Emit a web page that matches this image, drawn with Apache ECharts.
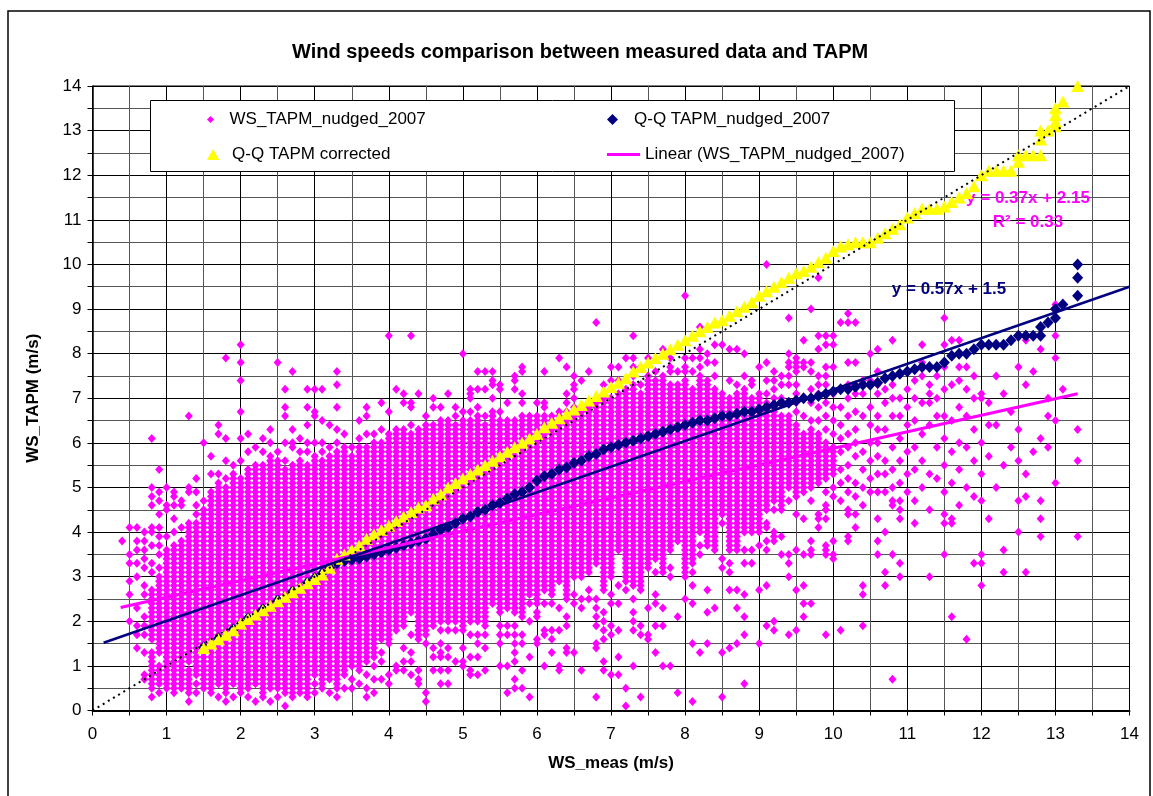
<!DOCTYPE html>
<html>
<head>
<meta charset="utf-8">
<title>Wind speeds comparison between measured data and TAPM</title>
<script src="https://cdn.jsdelivr.net/npm/echarts@6/dist/echarts.min.js"></script>
<style>
html, body { margin: 0; padding: 0; background: #fff; }
#chart { width: 1153px; height: 796px; }
</style>
</head>
<body>
<div id="chart"></div>
<script>
// WS_TAPM_nudged_2007 scatter, read column by column (measured speed in 0.1 m/s steps)
// "a-b" = the column is filled at every 0.1 from a to b, a lone number = one point
var colX = [0.4, 0.5, 0.6, 0.7, 0.8, 0.9, 1.0, 1.1, 1.2, 1.3, 1.4, 1.5, 1.6, 1.7, 1.8, 1.9,
    2.0, 2.1, 2.2, 2.3, 2.4, 2.5, 2.6, 2.7, 2.8, 2.9, 3.0, 3.1, 3.2, 3.3, 3.4, 3.5, 3.6, 3.7, 3.8, 3.9,
    4.0, 4.1, 4.2, 4.3, 4.4, 4.5, 4.6, 4.7, 4.8, 4.9, 5.0, 5.1, 5.2, 5.3, 5.4, 5.5, 5.6, 5.7, 5.8, 5.9,
    6.0, 6.1, 6.2, 6.3, 6.4, 6.5, 6.6, 6.7, 6.8, 6.9, 7.0, 7.1, 7.2, 7.3, 7.4, 7.5, 7.6, 7.7, 7.8, 7.9,
    8.0, 8.1, 8.2, 8.3, 8.4, 8.5, 8.6, 8.7, 8.8, 8.9, 9.0, 9.1, 9.2, 9.3, 9.4, 9.5, 9.6, 9.7, 9.8, 9.9,
    10.0, 10.1, 10.2, 10.3, 10.4, 10.5, 10.6, 10.7, 10.8, 10.9, 11.0, 11.1, 11.2, 11.3, 11.4, 11.5, 11.6, 11.7, 11.8, 11.9,
    12.0, 12.1, 12.2, 12.3, 12.4, 12.5, 12.6, 12.7, 12.8, 12.9, 13.0, 13.1, 13.3]
var colRuns = [
    "3.8",
    "2.0 2.6 2.9 3.3 3.5 4.1",
    "1.4 1.7 1.9 2.3 3.0 3.3 3.6 3.8 4.1",
    "0.7 0.8 1.3 1.7 1.9 2.1 2.6 2.8 3.2 3.4 3.6 3.8 4.0",
    "0.3 0.5-1.3 1.6-2.7 3.1 3.3 3.7 4.0 4.1 4.6 4.8 5.0 6.1",
    "0.4 0.6-1.0 1.3-3.0 3.2 3.5 3.7 3.9 4.1 4.4 4.7 4.9 5.4",
    "0.5-3.6 3.9 4.5 4.6 5.0",
    "0.4-3.7 4.0 4.3 4.6 4.8 4.9",
    "0.5-3.8 4.1 4.6 4.7",
    "0.2 0.4-0.9 1.1-4.2 4.9 5.0 6.6",
    "0.4 0.6 0.8-4.2 4.4 4.6 4.9 5.2",
    "0.5-4.5 4.7 6.0",
    "0.4-4.9 5.3 5.7",
    "0.3 0.6-5.1 5.3 6.2 6.4",
    "0.2 0.4-5.0 5.2 5.6 6.1 7.9",
    "0.3 0.6-5.3 5.5",
    "0.4-5.2 5.6 6.1 6.7 7.4 7.8 8.2",
    "0.3 0.5-5.3 5.4 5.8 6.2",
    "0.2 0.6-5.4 5.5 5.9",
    "0.3-5.5 5.8 6.1",
    "0.2 0.5-5.7 6.0 6.3",
    "0.3 0.5-5.6 5.8 7.8",
    "0.1 0.4-5.4 5.6 6.0 6.6 6.8 7.2",
    "0.3-5.5 5.9 6.0 6.3 7.6",
    "0.4-5.6 5.8 6.1",
    "0.3-5.5 5.8 6.0 6.4 6.8 7.2",
    "0.4 0.6 0.8-5.7 6.0 6.6 6.7 7.2",
    "0.5-5.6 5.8 6.0 6.5 7.2",
    "0.4 0.7-5.7 5.9 6.4",
    "0.3 0.5-5.8 6.0 6.3 6.8 7.3 7.6",
    "0.5 0.8-5.8 5.9 6.2",
    "0.5 0.7 1.0-5.7 5.9",
    "0.6 0.9-5.9 6.1 6.5",
    "0.3 0.5 0.8 1.1-5.9 6.2 6.6 6.8",
    "0.4 0.7 1.0 1.2-6.0 6.2",
    "0.7 1.1 1.3 1.6-6.0 6.3 6.9",
    "0.6 0.8 1.5-6.2 6.7 8.4",
    "0.9 1.0 1.8-6.3 7.2",
    "0.9 1.1 1.4 1.9-6.3 6.9 7.1",
    "0.8 1.1 1.3 1.7 2.2-6.2 6.4 6.8 6.9 8.4",
    "0.6 0.7 0.9 1.6-6.3 7.1",
    "0.2 0.4 1.5 1.7-6.4 6.6",
    "0.9 1.2 1.4 1.9-6.4 6.8 7.0",
    "0.6 0.9 1.2 1.3 1.5 1.8 2.0-6.5 6.8",
    "0.6 0.9 1.2 1.4 1.8 2.0-6.5 7.1",
    "1.1 1.8 2.0-6.4 6.6 6.8",
    "1.0 1.1 1.4 1.8-6.5 6.7 8.0",
    "0.8 0.9 1.2 1.7 2.0-6.5 6.7 7.0 7.1 7.2",
    "0.8 1.2 1.5 1.7 2.0-6.6 6.8 7.2 7.6",
    "0.9 1.4 1.7 1.9-6.4 6.6 7.2 7.6",
    "2.4-6.7 7.0 7.3 7.4 7.6",
    "1.0 1.5 1.7 1.9 2.2-6.5 6.7 7.2 7.3",
    "0.4 1.0 1.7 1.9 2.3-6.5 6.9",
    "0.5 0.7 1.1 1.3 1.5 1.7 1.9 2.2-6.5 7.2 7.4 7.5",
    "0.5 0.9 1.5 1.7 2.1-6.6 6.9 7.1 7.6 7.7",
    "0.3 1.2 2.0 2.4 2.6-6.6",
    "1.5 1.6 2.1 2.2 2.4-6.6 6.9",
    "1.0 1.7 1.8 2.4 2.7-6.6 6.8 6.9 7.6",
    "1.3 1.6 1.8 2.4 2.6-6.6",
    "0.9 1.0 1.8 2.3 2.9-6.7 7.9",
    "1.3 1.4 1.9 2.1 2.5-6.7 6.9 7.1 7.7",
    "1.3 2.4 2.6 3.0-6.8 7.0 7.2 7.3 7.5",
    "0.9 2.3 2.5 3.0-6.7 7.4",
    "2.5 2.7 3.1-6.8 6.9 7.6",
    "0.3 1.4 1.5 1.9 2.1 2.3 2.5 3.3-6.9 8.7",
    "0.9 1.1 1.6 1.8 2.0 2.2 2.7-7.0 7.1 7.3",
    "0.8 1.7 1.9 2.4 2.6 3.0-7.0 7.2 7.4 7.7",
    "0.8 1.2 1.8 2.4 2.8 3.6-7.1 7.4 7.7",
    "0.1 0.5 2.7 2.9-7.2 7.9",
    "1.0 1.8 2.0 2.2 2.5 2.8-7.3 7.5 7.7 7.9 8.4",
    "0.3 1.7 1.9 2.7-7.1 7.3 7.7",
    "1.6 1.7 2.3 3.2-7.5 7.9",
    "1.3 1.9 2.4 2.6 3.1 3.4-7.4 7.6",
    "1.0 1.9 2.3 3.1-7.5 8.1",
    "1.0 3.0 3.2 3.6-7.3 7.6 7.7 7.9",
    "0.4 2.1 3.8-7.3 7.6",
    "2.5 3.0-7.4 7.6 7.7 7.9 9.3",
    "0.2 1.5 2.4 2.8 3.1 3.3-7.2 7.6 7.9",
    "1.3 3.5 3.7 4.0-7.5 7.7 7.9 8.1 8.6",
    "1.5 2.2 2.7 3.7-7.4 7.8 8.0",
    "2.3 3.6-7.2 7.5 7.8 8.2",
    "0.3 1.3 3.2 3.4 4.2 4.4-7.1 8.2",
    "1.4 2.7 3.1 3.3 3.6-7.0 7.4 8.1",
    "1.5 2.3 2.7 3.6-7.1 7.3 8.1",
    "0.6 1.7 2.1 2.6 3.3 3.6 4.0-7.2 7.5 8.0",
    "3.3 3.6 4.0-7.0 7.3 7.4",
    "1.5 2.7 3.7 4.0-7.1 7.7",
    "1.9 2.8 3.6 3.8 4.1 4.2 4.5-6.9 7.1 7.4 7.8 10.0",
    "1.8 2.0 3.8 3.9 4.0 4.5 4.7-6.8 7.0 7.2 7.4 7.6",
    "3.5 3.9 4.5-6.6 7.0 7.3 7.5",
    "1.7 3.0 3.3 3.5 4.7 5.0-6.6 6.9 7.3 7.5 7.7 7.8 8.0 8.8",
    "1.8 2.7 3.6 4.4 4.8-6.4 6.7 6.9 7.1 7.3 7.6 7.7 7.8 7.9",
    "2.1 2.4 2.8 3.5 4.3 4.9-6.2 6.6 7.0 7.7 7.8 8.3",
    "2.4 3.5 3.6 3.8 4.7 5.0-6.3 6.5 6.9 7.2 7.6 7.8 9.0",
    "4.1 4.3 4.4 5.1-6.2 6.5 6.8 7.1 7.3 7.5 8.1 8.4 9.7",
    "1.7 3.5 3.6 3.7 4.3 4.5 4.6 4.9 5.2-6.0 6.3 6.6 6.9 7.1 7.3 7.5 7.7 8.2 8.4",
    "3.4 3.5 3.8 4.8 5.0 5.3-5.9 6.2 6.5 6.8 7.1 7.7 8.2 8.4",
    "1.8 4.7 5.1 5.4 5.8 6.1 6.4 6.8 8.7",
    "3.8 3.9 4.4 4.5 4.9 5.2 5.5 5.9 6.2 6.6 7.0 7.3 7.8 8.7 8.9",
    "4.1 4.4 4.8 5.1 5.7 6.0 6.3 6.7 7.1 7.3 7.8 8.7",
    "1.9 2.6 2.8 4.6 5.0 5.4 5.8 6.6 7.1 7.4",
    "4.9 5.2 5.6 6.0 6.4 6.8 7.4 8.0",
    "3.5 3.8 4.3 4.9 5.3 5.7 6.0 6.3 6.6 7.1 7.3 7.6 8.1",
    "2.8 3.1 4.0 4.9 5.3 5.6 6.3 6.9 7.2",
    "0.7 3.5 4.6 4.7 5.0 5.4 5.9 6.6 7.0 7.3 8.3",
    "3.0 3.3 4.3 4.5 4.7 5.1 5.6 6.1 6.6 7.0",
    "4.9 5.3 5.8 6.4 6.8 7.2 7.6",
    "4.2 4.7 5.4 5.9 6.5 7.0 7.4",
    "5.0 5.6 6.2 6.9 7.5 7.8 8.2",
    "3.0 4.5 5.3 6.4 6.9 7.1 7.3",
    "5.2 5.9 6.6 7.0 7.5",
    "3.5 4.2 4.4 4.9 5.5 6.1 6.6 7.2 7.7 8.2 8.8",
    "2.1 4.2 4.3 5.1 5.8 6.5 7.3 8.3",
    "4.6 5.4 6.0 6.8 7.4 7.7 8.3",
    "1.6 5.0 5.9 6.6 7.2 7.7",
    "3.3 4.8 5.6 6.3 7.0 7.5",
    "2.8 3.3 3.5 4.7 5.3 6.0 7.0 7.1",
    "4.3 5.7 6.4 6.9",
    "5.0 6.4 7.5",
    "3.1 3.6 5.5 7.1",
    "5.9 6.7",
    "4.0 4.7 5.6 6.3 7.7",
    "3.1 4.8 5.3 7.3 8.3",
    "5.8 7.6",
    "3.9 4.3 4.7 6.1 8.1",
    "5.9 6.6 7.0",
    "5.1 6.5 7.9 8.4 9.1",
    "7.2",
    "3.9 5.6 6.3"
]

// Q-Q TAPM_nudged_2007 (navy diamonds), the low end sits under the yellow triangles
var qqNudgedX = [1.5, 1.7, 1.9, 2.1, 2.3, 2.5, 2.7, 2.9, 3.0, 3.1, 3.2, 3.3, 3.4, 3.5, 3.6, 3.7, 3.8, 3.9,
    4.0, 4.1, 4.2, 4.3, 4.4, 4.5, 4.6, 4.7, 4.8, 4.9, 5.0, 5.1, 5.2, 5.3, 5.4, 5.5, 5.6, 5.7, 5.8, 5.9,
    6.0, 6.1, 6.2, 6.3, 6.4, 6.5, 6.6, 6.7, 6.8, 6.9, 7.0, 7.1, 7.2, 7.3, 7.4, 7.5, 7.6, 7.7, 7.8, 7.9,
    8.0, 8.1, 8.2, 8.3, 8.4, 8.5, 8.6, 8.7, 8.8, 8.9, 9.0, 9.1, 9.2, 9.3, 9.4, 9.5, 9.6, 9.7, 9.8, 9.9,
    10.0, 10.1, 10.2, 10.3, 10.4, 10.5, 10.6, 10.7, 10.8, 10.9, 11.0, 11.1, 11.2, 11.3, 11.4, 11.5, 11.6, 11.7, 11.8, 11.9,
    12.0, 12.1, 12.2, 12.3, 12.4, 12.5, 12.6, 12.7, 12.8, 12.8, 12.9, 13.0, 13.0, 13.1, 13.3, 13.3, 13.3]
var qqNudgedY = [1.42, 1.62, 1.82, 2.07, 2.27, 2.47, 2.67, 2.87, 2.97, 3.07, 3.2, 3.3, 3.35, 3.38, 3.4, 3.45, 3.5, 3.55,
    3.6, 3.65, 3.7, 3.75, 3.8, 3.85, 3.95, 4.05, 4.1, 4.2, 4.3, 4.35, 4.45, 4.5, 4.6, 4.65, 4.75, 4.85, 4.9, 5.0,
    5.15, 5.25, 5.3, 5.4, 5.45, 5.55, 5.6, 5.7, 5.75, 5.85, 5.9, 5.95, 6.0, 6.05, 6.1, 6.15, 6.2, 6.25, 6.3, 6.35,
    6.4, 6.45, 6.5, 6.5, 6.55, 6.6, 6.6, 6.65, 6.7, 6.7, 6.75, 6.8, 6.85, 6.9, 6.9, 6.95, 7.0, 7.0, 7.05, 7.1,
    7.15, 7.2, 7.2, 7.25, 7.3, 7.3, 7.35, 7.45, 7.5, 7.55, 7.6, 7.65, 7.7, 7.7, 7.7, 7.8, 7.95, 8.0, 8.0, 8.1,
    8.2, 8.2, 8.2, 8.2, 8.3, 8.4, 8.4, 8.4, 8.4, 8.6, 8.7, 8.8, 9.0, 9.1, 9.3, 9.7, 10.0]

// Q-Q TAPM corrected (yellow triangles)
var qqCorrX = [1.5, 1.6, 1.7, 1.8, 1.9, 2.0, 2.1, 2.2, 2.3, 2.4, 2.5, 2.6, 2.7, 2.8, 2.9, 3.0, 3.1, 3.2, 3.3, 3.4,
    3.5, 3.6, 3.7, 3.8, 3.9, 4.0, 4.1, 4.2, 4.3, 4.4, 4.5, 4.6, 4.7, 4.8, 4.9, 5.0, 5.1, 5.2, 5.3, 5.4,
    5.5, 5.6, 5.7, 5.8, 5.9, 6.0, 6.1, 6.2, 6.3, 6.4, 6.5, 6.6, 6.7, 6.8, 6.9, 7.0, 7.1, 7.2, 7.3, 7.4,
    7.5, 7.6, 7.7, 7.8, 7.9, 8.0, 8.1, 8.2, 8.3, 8.4, 8.5, 8.6, 8.7, 8.8, 8.9, 9.0, 9.1, 9.2, 9.3, 9.4,
    9.5, 9.6, 9.7, 9.8, 9.9, 10.0, 10.1, 10.2, 10.3, 10.4, 10.5, 10.6, 10.7, 10.8, 10.9, 11.0, 11.1, 11.2, 11.3, 11.4,
    11.5, 11.6, 11.7, 11.8, 11.9, 12.0, 12.1, 12.2, 12.3, 12.4, 12.5, 12.5, 12.6, 12.7, 12.8, 12.8, 12.8, 12.9,
    13.0, 13.0, 13.0, 13.0, 13.1, 13.3]
var qqCorrY = [1.4, 1.5, 1.6, 1.7, 1.8, 1.95, 2.05, 2.15, 2.25, 2.35, 2.45, 2.55, 2.65, 2.75, 2.85, 2.95, 3.05, 3.2, 3.4, 3.5,
    3.6, 3.7, 3.85, 3.95, 4.05, 4.15, 4.25, 4.35, 4.45, 4.55, 4.6, 4.75, 4.85, 5.0, 5.1, 5.2, 5.3, 5.4, 5.5, 5.6,
    5.7, 5.8, 5.9, 6.0, 6.1, 6.2, 6.35, 6.45, 6.55, 6.65, 6.75, 6.85, 6.95, 7.05, 7.15, 7.25, 7.35, 7.45, 7.6, 7.7,
    7.8, 7.9, 8.0, 8.1, 8.2, 8.3, 8.4, 8.5, 8.6, 8.7, 8.75, 8.85, 8.95, 9.05, 9.15, 9.3, 9.4, 9.5, 9.6, 9.7,
    9.8, 9.85, 9.95, 10.05, 10.15, 10.3, 10.4, 10.45, 10.5, 10.5, 10.5, 10.6, 10.7, 10.8, 10.9, 11.05, 11.15, 11.25, 11.25, 11.25,
    11.3, 11.4, 11.5, 11.6, 11.75, 12.0, 12.1, 12.1, 12.1, 12.1, 12.3, 12.45, 12.45, 12.45, 12.45, 12.8, 13.0, 13.0,
    13.1, 13.2, 13.35, 13.5, 13.65, 14.0]

// trend lines and the 1:1 line, end points
var linearX = [0.38, 13.3]
var linearY = [2.31, 7.1]
var qqFitX = [0.15, 14]
var qqFitY = [1.52, 9.5]
var oneToOneX = [0, 14]
var oneToOneY = [0, 14]

var FONT = 'Liberation Sans, Arial, sans-serif'

function pairs(xs, ys) {
    var out = []
    for (var i = 0; i < xs.length; i++) {
        out.push([xs[i], ys[i]])
    }
    return out
}

function expandColumns() {
    var pts = []
    for (var i = 0; i < colX.length; i++) {
        var parts = colRuns[i].split(' ')
        for (var j = 0; j < parts.length; j++) {
            var p = parts[j]
            if (p.indexOf('-') > 0) {
                var lo = Math.round(parseFloat(p.split('-')[0]) * 10)
                var hi = Math.round(parseFloat(p.split('-')[1]) * 10)
                for (var k = lo; k <= hi; k++) {
                    pts.push([colX[i], k / 10])
                }
            } else {
                pts.push([colX[i], parseFloat(p)])
            }
        }
    }
    return pts
}

var diamondIcon = 'path://M5,0L10,5L5,10L0,5Z'
var triangleIcon = 'path://M5,0L10,9L0,9Z'
var lineIcon = 'path://M0,0L33,0L33,3L0,3Z'

function legendAt(name, icon, left, top, w, h) {
    return {
        data: [{ name: name, icon: icon }],
        left: left, top: top,
        padding: 0,
        itemWidth: w, itemHeight: h,
        selectedMode: false,
        textStyle: { fontFamily: FONT, fontSize: 17, color: '#000' }
    }
}

var chart = echarts.init(document.getElementById('chart'), null, { renderer: 'canvas' })

var axisCommon = {
    type: 'value',
    min: 0,
    max: 14,
    interval: 1,
    axisLine: { show: true, lineStyle: { color: '#000', width: 2 } },
    axisTick: { show: true, length: 5, lineStyle: { color: '#000' } },
    minorTick: { show: true, splitNumber: 2, length: 5, lineStyle: { color: '#000' } },
    splitLine: { show: true, lineStyle: { color: '#000', width: 1 } },
    minorSplitLine: { show: true, lineStyle: { color: '#555', width: 1 } },
    axisLabel: { fontFamily: FONT, fontSize: 17, color: '#000' },
    nameLocation: 'middle',
    nameTextStyle: { fontFamily: FONT, fontSize: 17, fontWeight: 'bold', color: '#000' }
}

var option = {
    animation: false,
    backgroundColor: '#fff',
    title: {
        text: 'Wind speeds comparison between measured data and TAPM',
        left: 292, top: 42, padding: 0,
        textStyle: { fontFamily: FONT, fontSize: 20, fontWeight: 'bold', color: '#000' }
    },
    legend: [
        legendAt('WS_TAPM_nudged_2007', diamondIcon, 207, 111, 28, 7),
        legendAt('Q-Q TAPM corrected', triangleIcon, 207, 146, 28, 11),
        legendAt('Q-Q TAPM_nudged_2007', diamondIcon, 607, 111, 33, 11),
        legendAt('Linear (WS_TAPM_nudged_2007)', lineIcon, 607, 146, 33, 11)
    ],
    grid: {
        left: 92.5, right: 23.5, top: 86, bottom: 85.5,
        show: true, borderColor: '#000', borderWidth: 1,
        backgroundColor: '#fff'
    },
    xAxis: Object.assign({}, axisCommon, {
        name: 'WS_meas (m/s)', nameGap: 44,
        axisLabel: Object.assign({}, axisCommon.axisLabel, { margin: 15 })
    }),
    yAxis: Object.assign({}, axisCommon, {
        name: 'WS_TAPM (m/s)', nameGap: 51,
        axisLine: { show: true, lineStyle: { color: '#000', width: 1.5 } },
        axisLabel: Object.assign({}, axisCommon.axisLabel, { margin: 11 })
    }),
    graphic: [
        { type: 'rect', z: 0, silent: true,
          shape: { x: 8, y: 11, width: 1142, height: 800 },
          style: { fill: 'none', stroke: '#000', lineWidth: 1.5 } },
        { type: 'rect', z: 3, silent: true,
          shape: { x: 150.5, y: 100.5, width: 804, height: 71 },
          style: { fill: '#fff', stroke: '#000', lineWidth: 1 } },
        { type: 'text', z: 10, x: 1028, y: 198,
          style: { text: 'y = 0.37x + 2.15', fill: '#FF00FF', font: 'bold 17px ' + FONT,
                   textAlign: 'center', textVerticalAlign: 'middle' } },
        { type: 'text', z: 10, x: 1028, y: 222,
          style: { text: 'R\u00b2 = 0.33', fill: '#FF00FF', font: 'bold 17px ' + FONT,
                   textAlign: 'center', textVerticalAlign: 'middle' } },
        { type: 'text', z: 10, x: 949, y: 289,
          style: { text: 'y = 0.57x + 1.5', fill: '#000080', font: 'bold 17px ' + FONT,
                   textAlign: 'center', textVerticalAlign: 'middle' } }
    ],
    series: [
        {
            name: 'WS_TAPM_nudged_2007',
            type: 'scatter',
            symbol: 'diamond',
            symbolSize: [8, 9],
            itemStyle: { color: '#FF00FF', opacity: 1 },
            z: 2,
            data: expandColumns()
        },
        {
            name: 'Q-Q TAPM_nudged_2007',
            type: 'scatter',
            symbol: 'diamond',
            symbolSize: [11, 12],
            itemStyle: { color: '#000080', opacity: 1 },
            z: 3,
            data: pairs(qqNudgedX, qqNudgedY)
        },
        {
            name: 'Q-Q TAPM corrected',
            type: 'scatter',
            symbol: 'triangle',
            symbolSize: [13, 12],
            itemStyle: { color: '#FFFF00', opacity: 1 },
            z: 4,
            data: pairs(qqCorrX, qqCorrY)
        },
        {
            name: 'Linear (WS_TAPM_nudged_2007)',
            type: 'line',
            showSymbol: false,
            symbol: 'none',
            lineStyle: { color: '#FF00FF', width: 3 },
            itemStyle: { color: '#FF00FF' },
            z: 5,
            data: pairs(linearX, linearY)
        },
        {
            name: 'Linear (Q-Q TAPM_nudged_2007)',
            type: 'line',
            showSymbol: false,
            symbol: 'none',
            lineStyle: { color: '#000080', width: 2.5 },
            itemStyle: { color: '#000080' },
            z: 5,
            data: pairs(qqFitX, qqFitY)
        },
        {
            name: '1:1',
            type: 'line',
            showSymbol: false,
            symbol: 'none',
            lineStyle: { color: '#000', width: 2, type: [2, 4] },
            z: 6,
            data: pairs(oneToOneX, oneToOneY)
        }
    ]
}

chart.setOption(option)
</script>
</body>
</html>
